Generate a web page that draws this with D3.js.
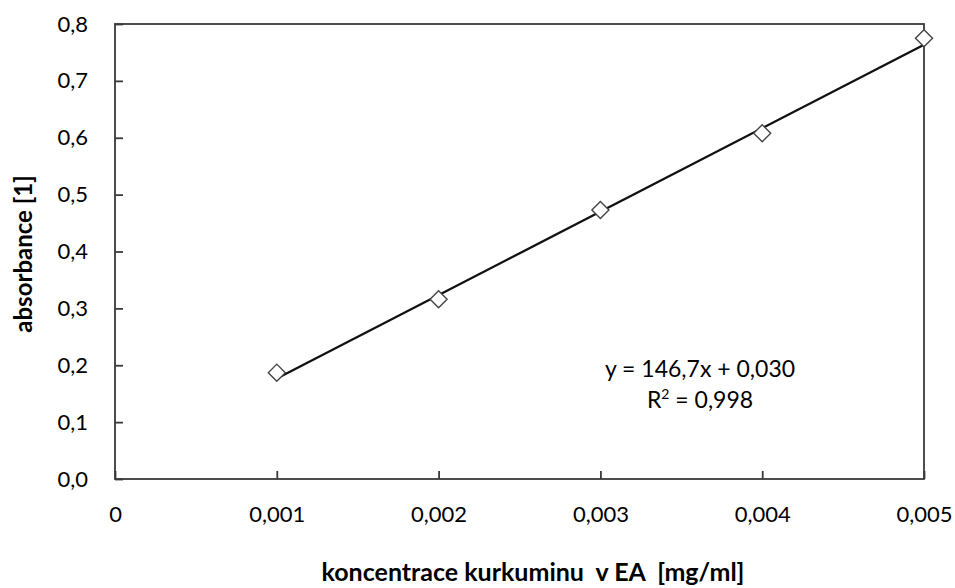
<!DOCTYPE html>
<html>
<head>
<meta charset="utf-8">
<script src="https://cdn.jsdelivr.net/npm/d3@7"></script>
<style>
  body { margin: 0; background: #fff; }
  text { font-family: Lato, "Open Sans", sans-serif; fill: #000; }
</style>
</head>
<body>
<div id="chart"></div>
<script>
const width = 955;
const height = 588;

// concentration [mg/ml] and measured absorbance
const concentrations = [0.001, 0.002, 0.003, 0.004, 0.005];
const absorbance = [0.187, 0.316, 0.473, 0.608, 0.775];
const xTicks = [0, 0.001, 0.002, 0.003, 0.004, 0.005];
const yTicks = [0, 0.1, 0.2, 0.3, 0.4, 0.5, 0.6, 0.7, 0.8];
const slope = 146.7;
const intercept = 0.030;

const margin = { top: 24, right: 31, bottom: 109, left: 115 };

const svg = d3.select("#chart")
    .append("svg")
    .attr("width", width)
    .attr("height", height);

const x = d3.scaleLinear()
    .domain([0, 0.005])
    .range([margin.left, width - margin.right]);

const y = d3.scaleLinear()
    .domain([0, 0.8])
    .range([height - margin.bottom, margin.top]);

const comma = s => s.replace(".", ",");

// plot frame
svg.append("rect")
    .attr("x", x(0))
    .attr("y", y(0.8))
    .attr("width", x(0.005) - x(0))
    .attr("height", y(0) - y(0.8))
    .attr("fill", "none")
    .attr("stroke", "#3a3a3a")
    .attr("stroke-width", 1.8);

// axes, ticks pointing inward
const xAxis = svg.append("g")
    .attr("transform", `translate(0,${y(0)})`)
    .call(d3.axisBottom(x).tickValues(xTicks).tickSizeInner(-8).tickSizeOuter(0)
        .tickFormat(d => d === 0 ? "0" : comma(d3.format(".3f")(d))));
xAxis.select(".domain").remove();
xAxis.selectAll("line").attr("stroke", "#3a3a3a").attr("stroke-width", 1.8);
xAxis.selectAll("text")
    .attr("y", 36)
    .attr("dy", "0.32em")
    .attr("font-size", 22)
    .attr("font-family", "Lato, 'Open Sans', sans-serif");

const yAxis = svg.append("g")
    .attr("transform", `translate(${x(0)},0)`)
    .call(d3.axisLeft(y).tickValues(yTicks).tickSizeInner(-8).tickSizeOuter(0)
        .tickFormat(d => comma(d3.format(".1f")(d))));
yAxis.select(".domain").remove();
yAxis.selectAll("line").attr("stroke", "#3a3a3a").attr("stroke-width", 1.8);
yAxis.selectAll("text")
    .attr("x", -27)
    .attr("font-size", 22)
    .attr("font-family", "Lato, 'Open Sans', sans-serif");

// linear trendline
svg.append("line")
    .attr("x1", x(concentrations[0]))
    .attr("y1", y(slope * concentrations[0] + intercept))
    .attr("x2", x(concentrations[concentrations.length - 1]))
    .attr("y2", y(slope * concentrations[concentrations.length - 1] + intercept))
    .attr("stroke", "#111")
    .attr("stroke-width", 2.3);

// diamond markers
svg.selectAll(".pt")
    .data(concentrations)
    .enter().append("path")
    .attr("class", "pt")
    .attr("d", d3.symbol().type(d3.symbolDiamond2).size(185))
    .attr("transform", (d, i) => `translate(${x(d)},${y(absorbance[i])})`)
    .attr("fill", "#fff")
    .attr("stroke", "#444")
    .attr("stroke-width", 1.4);

// equation
svg.append("text")
    .attr("x", 700)
    .attr("y", 377)
    .attr("text-anchor", "middle")
    .attr("font-size", 23)
    .text(`y = ${comma(slope.toFixed(1))}x + ${comma(intercept.toFixed(3))}`);

const r2 = svg.append("text")
    .attr("x", 700)
    .attr("y", 408)
    .attr("text-anchor", "middle")
    .attr("font-size", 23);
r2.append("tspan").text("R");
r2.append("tspan").attr("dy", -9).attr("font-size", 14).text("2");
r2.append("tspan").attr("dy", 9).text(" = 0,998");

// axis titles
svg.append("text")
    .attr("x", 533)
    .attr("y", 581)
    .attr("text-anchor", "middle")
    .attr("font-size", 25)
    .attr("font-weight", "bold")
    .style("white-space", "pre")
    .text("koncentrace kurkuminu  v EA  [mg/ml]");

svg.append("text")
    .attr("transform", `translate(32,254) rotate(-90)`)
    .attr("text-anchor", "middle")
    .attr("font-size", 24)
    .attr("font-weight", "bold")
    .text("absorbance [1]");
</script>
</body>
</html>
